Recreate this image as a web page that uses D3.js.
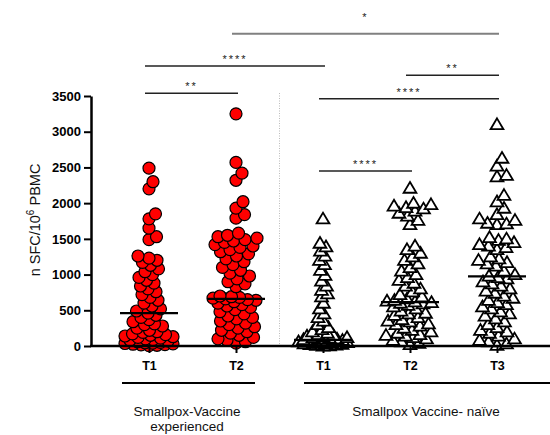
<!DOCTYPE html>
<html>
<head>
<meta charset="utf-8">
<script src="https://cdn.jsdelivr.net/npm/d3@7"></script>
<style>
  body { margin: 0; background: #fff; }
  svg { font-family: "Liberation Sans", Arial, sans-serif; }
</style>
</head>
<body>
<div id="chart"></div>
<script>
// Columns of the dot plot
const columnIds = ["expT1", "expT2", "naiT1", "naiT2", "naiT3"];
const columnLabels = ["T1", "T2", "T1", "T2", "T3"];
const groupLabels = [["Smallpox-Vaccine", "experienced"], ["Smallpox Vaccine- na\u00efve"]];

// SFC per 10^6 PBMC
const expT1 = [2490, 2300, 2200, 1850, 1780, 1650, 1530, 1490, 1260, 1230, 1200, 1170, 1130,
  1080, 1040, 1000, 960, 920, 880, 840, 800, 760, 720, 680, 640, 600, 560, 520, 490,
  460, 430, 400, 370, 340, 310, 300, 280, 250, 220, 200, 190, 170, 160, 150, 140, 130, 120, 110, 100,
  90, 80, 70, 60, 50, 45, 40, 35, 30, 25, 20, 15, 10, 5];
const expT2 = [3250, 2570, 2420, 2320, 2020, 1930, 1840, 1790, 1580, 1550, 1530, 1510, 1490, 1470,
  1450, 1420, 1400, 1380, 1350, 1320, 1290, 1260, 1220, 1180, 1140, 1100, 1060, 1020, 980, 940, 900,
  870, 830, 700, 690, 680, 670, 660, 650, 640, 620, 600, 580, 560, 540, 510, 480, 450, 420, 400, 380,
  350, 320, 300, 270, 250, 220, 200, 180, 150, 120, 100, 80, 60, 40];
const naiT1 = [1780, 1440, 1390, 1330, 1260, 1200, 1140, 1060, 990, 910, 840, 780, 730, 690, 600,
  520, 450, 400, 350, 300, 260, 230, 200, 180, 160, 150, 140, 130, 120, 120, 110, 100, 100, 95, 90,
  85, 80, 80, 75, 70, 65, 60, 60, 55, 50, 45, 40, 40, 35, 30, 25, 20, 15, 10, 5, 0];
const naiT2 = [2210, 2000, 1980, 1960, 1940, 1920, 1890, 1860, 1820, 1760, 1700, 1400, 1350, 1300,
  1250, 1200, 1150, 1100, 1050, 1000, 960, 920, 880, 840, 800, 760, 720, 690, 660, 640, 630, 620,
  610, 600, 590, 570, 550, 520, 490, 460, 450, 430, 400, 370, 350, 340, 310, 300, 280, 250, 220, 200,
  180, 160, 150, 140, 120, 100, 80, 60, 40, 20];
const naiT3 = [3100, 2630, 2520, 2390, 2370, 2110, 2020, 1930, 1840, 1780, 1760, 1720, 1710, 1700,
  1520, 1500, 1480, 1450, 1420, 1400, 1380, 1350, 1250, 1220, 1200, 1170, 1150, 1120, 1050, 1000,
  980, 960, 940, 900, 870, 840, 800, 770, 740, 700, 670, 640, 610, 580, 550, 520, 480, 450, 420, 380,
  340, 300, 260, 220, 200, 180, 140, 100, 80, 60, 30, 10];

const medians = [460, 660, 85, 615, 975];
const yTicks = [0, 500, 1000, 1500, 2000, 2500, 3000, 3500];

// significance brackets: [from column, to column, height in SFC units, label]
const sigFrom = [1, 0, 0, 3, 2, 2];
const sigTo = [4, 2, 1, 4, 4, 3];
const sigHeight = [4370, 3920, 3540, 3790, 3460, 2450];
const sigLabels = ["*", "****", "**", "**", "****", "****"];

const columnValues = [expT1, expT2, naiT1, naiT2, naiT3];

const W = 550, H = 435;
const svg = d3.select("#chart").append("svg")
  .attr("width", W)
  .attr("height", H);

const x = d3.scalePoint().domain(columnIds).range([149, 497]);
const y = d3.scaleLinear().domain([0, 3500]).range([346, 96]);

// dotted separator between the two groups
const sepX = (x("expT2") + x("naiT1")) / 2;
svg.append("line")
  .attr("x1", sepX).attr("x2", sepX)
  .attr("y1", 93).attr("y2", y(0))
  .attr("stroke", "#bbb")
  .attr("stroke-width", 1)
  .attr("stroke-dasharray", "1,1.5");

// simple beeswarm: place each point at the offset with the least overlap
function swarm(values, maxHalf, minDist, pull) {
  const pts = values.map(v => ({ v: v, y: y(v), dx: 0 })).sort((a, b) => a.v - b.v);
  const offsets = [0];
  for (let s = 0.5; s <= maxHalf; s += 0.5) offsets.push(s, -s);
  const placed = [];
  pts.forEach(p => {
    let best = 0, bestCost = Infinity;
    offsets.forEach(off => {
      let cost = pull * off * off;
      placed.forEach(q => {
        const d = Math.hypot(off - q.dx, p.y - q.y);
        if (d < minDist) cost += (minDist - d) * (minDist - d);
      });
      if (cost < bestCost) { bestCost = cost; best = off; }
    });
    p.dx = best;
    placed.push(p);
  });
  return pts;
}

const maxHalf = [24, 23, 29, 24, 23];
const minDist = [8.5, 9.5, 7, 9, 9.5];
const pull = [0.03, 0.015, 0.05, 0.012, 0.012];
const tri = "M0,-6.2L6.4,4.6L-6.4,4.6Z";

columnIds.forEach((id, i) => {
  const cx = x(id);
  const pts = swarm(columnValues[i], maxHalf[i], minDist[i], pull[i]);
  const g = svg.append("g");
  if (i < 2) {
    g.selectAll("circle")
      .data(pts)
      .enter().append("circle")
      .attr("cx", d => cx + d.dx)
      .attr("cy", d => d.y)
      .attr("r", 6)
      .attr("fill", "#ff0000")
      .attr("stroke", "#000")
      .attr("stroke-width", 1.2);
  } else {
    g.selectAll("path")
      .data(pts)
      .enter().append("path")
      .attr("d", tri)
      .attr("transform", d => `translate(${cx + d.dx},${d.y})`)
      .attr("fill", "#fff")
      .attr("stroke", "#000")
      .attr("stroke-width", 1.8)
      .attr("stroke-linejoin", "miter");
  }
  // median line
  svg.append("line")
    .attr("x1", cx - 29).attr("x2", cx + 29)
    .attr("y1", y(medians[i])).attr("y2", y(medians[i]))
    .attr("stroke", "#000")
    .attr("stroke-width", 2.2);
});

// y axis
const yAxis = svg.append("g")
  .attr("transform", "translate(91,0)")
  .call(d3.axisLeft(y).tickValues(yTicks).tickFormat(d3.format("d"))
    .tickSize(7).tickSizeOuter(0).tickPadding(3));
yAxis.select(".domain").attr("stroke-width", 2.5);
yAxis.selectAll(".tick line").attr("stroke-width", 2);
yAxis.selectAll(".tick text")
  .attr("font-size", 13)
  .attr("font-weight", "bold")
  .attr("font-family", "'Liberation Sans', Arial, sans-serif")
  .attr("fill", "#000");

// x axis baseline and ticks
svg.append("line")
  .attr("x1", 90).attr("x2", W)
  .attr("y1", y(0)).attr("y2", y(0))
  .attr("stroke", "#000")
  .attr("stroke-width", 2.5);
const xAxis = svg.append("g")
  .attr("transform", `translate(0,${y(0)})`)
  .call(d3.axisBottom(x).tickSize(7).tickPadding(8).tickFormat((d, i) => columnLabels[i]));
xAxis.select(".domain").remove();
xAxis.selectAll(".tick line").attr("stroke-width", 2);
xAxis.selectAll(".tick text")
  .attr("font-size", 12.5)
  .attr("font-weight", "bold")
  .attr("font-family", "'Liberation Sans', Arial, sans-serif")
  .attr("fill", "#000");

// y axis title
const yTitle = svg.append("text")
  .attr("transform", "translate(40,220) rotate(-90)")
  .attr("text-anchor", "middle")
  .attr("font-size", 14.5)
  .attr("fill", "#111");
yTitle.append("tspan").text("n SFC/10");
yTitle.append("tspan").attr("dy", -6).attr("font-size", 10).text("6");
yTitle.append("tspan").attr("dy", 6).text(" PBMC");

// group underlines and labels
const groupSpans = [[122, 255], [304, W]];
const groupCenters = [187, 426];
groupSpans.forEach((s, i) => {
  svg.append("line")
    .attr("x1", s[0]).attr("x2", s[1])
    .attr("y1", 383).attr("y2", 383)
    .attr("stroke", "#000")
    .attr("stroke-width", 2);
  groupLabels[i].forEach((t, j) => {
    svg.append("text")
      .attr("x", groupCenters[i])
      .attr("y", 416 + j * 15)
      .attr("text-anchor", "middle")
      .attr("font-size", 13.5)
      .attr("fill", "#111")
      .text(t);
  });
});

// significance brackets
sigLabels.forEach((lab, i) => {
  const x1 = x(columnIds[sigFrom[i]]) - 4;
  const x2 = x(columnIds[sigTo[i]]) + 2;
  const ly = y(sigHeight[i]);
  svg.append("line")
    .attr("x1", x1).attr("x2", x2)
    .attr("y1", ly).attr("y2", ly)
    .attr("stroke", i === 0 ? "#808080" : "#222")
    .attr("stroke-width", i === 0 ? 2 : 1.5);
  svg.append("text")
    .attr("x", (x1 + x2) / 2)
    .attr("y", i === 0 ? ly - 13 : ly - 3)
    .attr("text-anchor", "middle")
    .attr("font-size", 11)
    .attr("letter-spacing", 2)
    .attr("fill", "#222")
    .text(lab);
});
</script>
</body>
</html>
